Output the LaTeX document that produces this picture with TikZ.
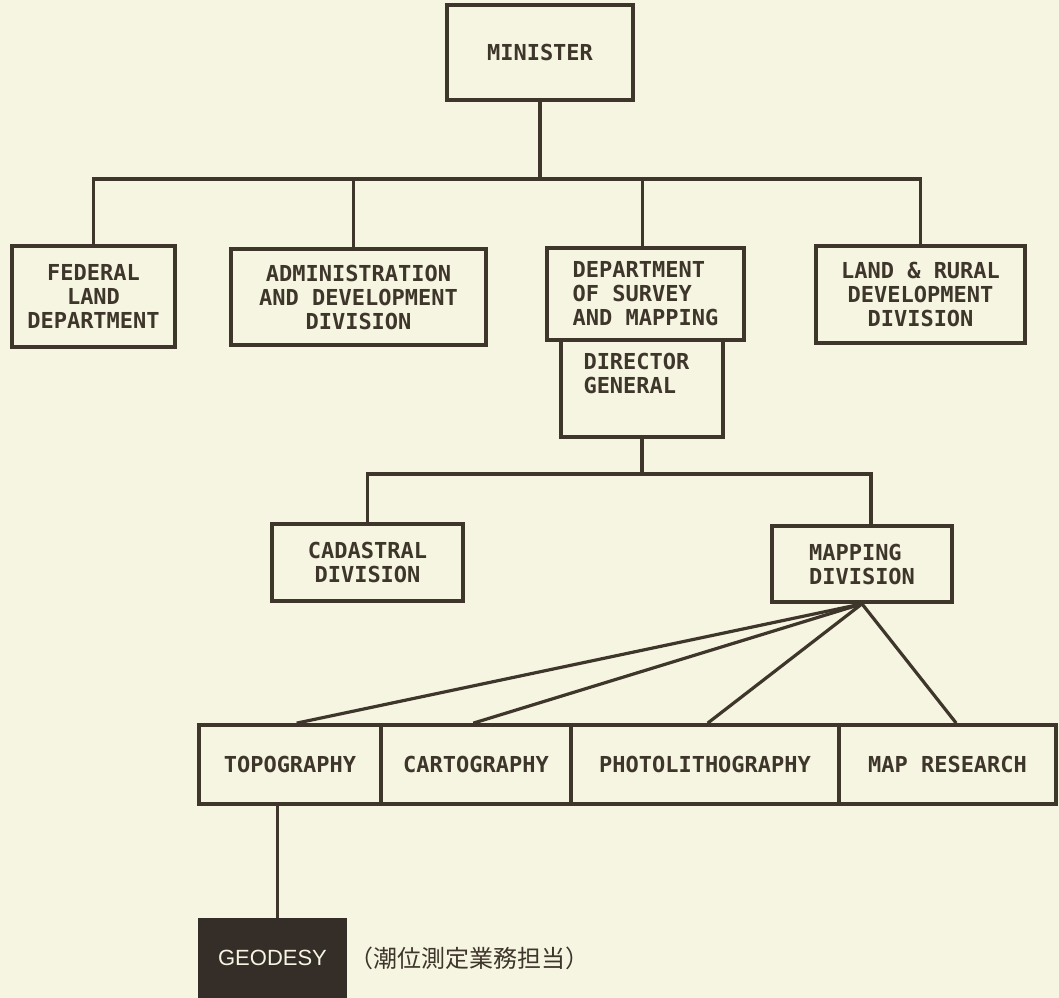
\documentclass[tikz,border=0pt]{standalone}
\usepackage{fontspec}
\newfontfamily\plotfont{DejaVu Sans Mono}
\newfontfamily\geofont{Liberation Sans}
\newfontfamily\cjkfont{Noto Sans CJK JP}

\definecolor{paper}{RGB}{246,245,226}
\definecolor{inkbrown}{RGB}{62,54,43}
\definecolor{inkdark}{RGB}{52,45,40}

\tikzset{every picture/.style={line width=0.75pt}}
\tikzset{
  orgbox/.style={draw=inkbrown, line width=2.8pt, fill=paper, text=inkbrown, inner sep=0pt, align=center,
    font=\plotfont\bfseries\fontsize{16.5}{18}\selectfont},
  orglabel/.style={text=inkbrown, inner sep=0pt, font=\plotfont\bfseries\fontsize{16.5}{18}\selectfont},
  darkbox/.style={fill=inkdark, text=paper, inner sep=0pt, font=\geofont\fontsize{16.5}{16.5}\selectfont},
  link/.style={draw=inkbrown, line width=2.4pt}
}

\begin{document}
\begin{tikzpicture}[x=0.75pt,y=0.75pt,yscale=-1,xscale=1]
\path[use as bounding box, fill=paper] (0,0) rectangle (1059,998);

%Rectangle: top
\node[orgbox, minimum width=139.5pt, minimum height=71.25pt] (minister) at (540,52.5) {MINISTER};
%Rectangles: second level
\node[orgbox, minimum width=122.25pt, minimum height=75.75pt] (federal) at (93.5,296.5) {FEDERAL\\LAND\\DEPARTMENT};
\node[orgbox, minimum width=191.25pt, minimum height=72pt] (admin) at (358.5,297) {ADMINISTRATION\\AND DEVELOPMENT\\DIVISION};
\node[orgbox, minimum width=121.5pt, minimum height=72.75pt] (dg) at (642,388.5) {};
\node[orgbox, align=left, minimum width=147.75pt, minimum height=69pt] (dsm) at (645.5,294) {DEPARTMENT\\OF SURVEY\\AND MAPPING};
\node[orgbox, minimum width=156.75pt, minimum height=72.75pt] (land) at (920.5,294.5) {LAND \& RURAL\\DEVELOPMENT\\DIVISION};
% Text Node
\node[orglabel, align=left, anchor=west] (dglabel) at (583,373) {DIRECTOR\\GENERAL};
%Rectangles: divisions
\node[orgbox, minimum width=143.25pt, minimum height=57.75pt] (cadastral) at (367.5,562.5) {CADASTRAL\\DIVISION};
\node[orgbox, align=left, minimum width=135pt, minimum height=57pt] (mapping) at (862,564) {MAPPING\\DIVISION};
%Rectangles: sections
\node[orgbox, minimum width=136.5pt, minimum height=59.25pt] (topo) at (290,764.5) {TOPOGRAPHY};
\node[orgbox, minimum width=142.5pt, minimum height=59.25pt] (carto) at (476,764.5) {CARTOGRAPHY};
\node[orgbox, minimum width=201pt, minimum height=59.25pt] (photo) at (705,764.5) {PHOTOLITHOGRAPHY};
\node[orgbox, minimum width=162.75pt, minimum height=59.25pt] (mapres) at (947.5,764.5) {MAP RESEARCH};
%Filled rectangle
\node[darkbox, minimum width=111.75pt, minimum height=60pt] (geodesy) at (272.5,958) {GEODESY};
% Text Node
\node[anchor=west, inner sep=0pt, text=inkbrown, font=\cjkfont\fontsize{18}{18}\selectfont] (tidenote) at ([xshift=1pt]geodesy.east) {（潮位測定業務担当）};

\coordinate (topbus) at (540,179);
\coordinate (midbus) at (642,474);

%Straight Lines
\draw[link] (minister.south) -- (topbus);
\draw[link] (federal.north) |- (topbus) -| (land.north);
\draw[link] ([xshift=-4pt]admin.north) -- ([xshift=-4pt]admin.north |- topbus);
\draw[link] ([xshift=-2.5pt]dsm.north) -- ([xshift=-2.5pt]dsm.north |- topbus);
%Straight Lines
\draw[link] (dg.south) -- (midbus);
\draw[link] (cadastral.north) |- (midbus) -| ([xshift=6.75pt]mapping.north);
%Straight Lines
\draw[link] (mapping.south) -- ([xshift=5pt]topo.north);
\draw[link] (mapping.south) -- ([xshift=-2pt]carto.north);
\draw[link] (mapping.south) -- ([xshift=2pt]photo.north);
\draw[link] (mapping.south) -- ([xshift=6.5pt]mapres.north);
%Straight Lines
\draw[link] ([xshift=4pt]geodesy.north) -- ([xshift=4pt]geodesy.north |- topo.south);

\end{tikzpicture}
\end{document}
